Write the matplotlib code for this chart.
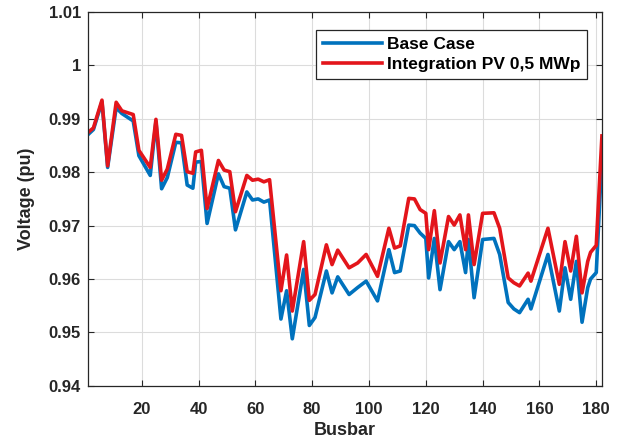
import matplotlib
matplotlib.use('Agg')
import matplotlib.pyplot as plt

plt.rcParams['font.family'] = ['Liberation Sans', 'DejaVu Sans']
plt.rcParams['font.weight'] = 'bold'

# bus numbers where the voltage profile changes direction
busbar = [1, 3, 6, 8, 11, 13, 17, 19, 23, 25, 27, 29, 32, 34, 36, 38, 39, 41,
          43, 47, 49, 51, 53, 57, 59, 61, 63, 65, 69, 71, 73, 77, 79, 81, 85,
          87, 89, 93, 96, 99, 103, 107, 109, 111, 114, 116, 118, 120, 121, 123,
          125, 128, 130, 132, 134, 135, 137, 140, 144, 146, 149, 151, 153, 156,
          157, 163, 167, 169, 171, 173, 175, 177, 178, 180, 182]

v_base = [0.9870, 0.9880, 0.9932, 0.9809, 0.9921, 0.9910, 0.9896, 0.9831,
          0.9794, 0.9895, 0.9769, 0.9790, 0.9856, 0.9855, 0.9776, 0.9770,
          0.9819, 0.9820, 0.9704, 0.9797, 0.9773, 0.9770, 0.9692, 0.9763,
          0.9748, 0.9750, 0.9744, 0.9748, 0.9525, 0.9578, 0.9488, 0.9618,
          0.9513, 0.9528, 0.9615, 0.9574, 0.9604, 0.9571, 0.9584, 0.9596,
          0.9559, 0.9655, 0.9612, 0.9615, 0.9701, 0.9700, 0.9686, 0.9676,
          0.9602, 0.9676, 0.9580, 0.9670, 0.9655, 0.9670, 0.9612, 0.9674,
          0.9565, 0.9674, 0.9676, 0.9646, 0.9556, 0.9544, 0.9537, 0.9562,
          0.9544, 0.9646, 0.9540, 0.9621, 0.9562, 0.9633, 0.9519, 0.9584,
          0.9600, 0.9612, 0.9830]

v_pv = [0.9874, 0.9883, 0.9935, 0.9812, 0.9931, 0.9915, 0.9908, 0.9841,
        0.9809, 0.9899, 0.9785, 0.9806, 0.9871, 0.9869, 0.9801, 0.9798,
        0.9838, 0.9841, 0.9732, 0.9822, 0.9804, 0.9801, 0.9726, 0.9794,
        0.9785, 0.9787, 0.9782, 0.9786, 0.9578, 0.9645, 0.9540, 0.9670,
        0.9560, 0.9571, 0.9664, 0.9627, 0.9654, 0.9621, 0.9630, 0.9646,
        0.9605, 0.9695, 0.9658, 0.9662, 0.9751, 0.9750, 0.9730, 0.9723,
        0.9655, 0.9728, 0.9630, 0.9717, 0.9701, 0.9720, 0.9655, 0.9720,
        0.9627, 0.9723, 0.9724, 0.9695, 0.9602, 0.9593, 0.9587, 0.9611,
        0.9596, 0.9695, 0.9590, 0.9670, 0.9615, 0.9680, 0.9574, 0.9633,
        0.9650, 0.9663, 0.9868]

xticks = [20, 40, 60, 80, 100, 120, 140, 160, 180]
yticks = [0.94, 0.95, 0.96, 0.97, 0.98, 0.99, 1.00, 1.01]
ytick_labels = ['0.94', '0.95', '0.96', '0.97', '0.98', '0.99', '1', '1.01']

fig = plt.figure(figsize=(6.18, 4.46), dpi=100)
ax = fig.add_axes([0.142, 0.135, 0.832, 0.838])

ax.plot(busbar, v_base, color='#0072BD', lw=2.6, label='Base Case')
ax.plot(busbar, v_pv, color='#E3151B', lw=2.6, label='Integration PV 0,5 MWp')

ax.set_xlim(1, 182)
ax.set_ylim(0.94, 1.01)
ax.set_xticks(xticks)
ax.set_yticks(yticks)
ax.set_yticklabels(ytick_labels)
ax.tick_params(direction='in', top=True, right=True, labelsize=12,
               length=4, width=0.8, colors='#262626')
ax.tick_params(axis='x', pad=12)
ax.tick_params(axis='y', pad=5)
for lab in ax.get_xticklabels() + ax.get_yticklabels():
    lab.set_fontweight('bold')
ax.grid(True, color='#dcdcdc', lw=0.8)
ax.set_axisbelow(True)
for s in ax.spines.values():
    s.set_color('#262626')
    s.set_linewidth(0.9)

ax.set_xlabel('Busbar', fontsize=13, fontweight='bold', color='#262626', labelpad=3)
ax.set_ylabel('Voltage (pu)', fontsize=13, fontweight='bold', color='#262626', labelpad=10)

leg = ax.legend(loc='upper right', bbox_to_anchor=(0.971, 0.952), borderaxespad=0,
                handlelength=3.4, handletextpad=0.25, borderpad=0.4,
                labelspacing=0.3, fancybox=False, framealpha=1,
                prop={'weight': 'bold', 'size': 12.5})
leg.get_frame().set_edgecolor('#262626')
leg.get_frame().set_linewidth(0.9)

fig.savefig('out.png', dpi=100)
